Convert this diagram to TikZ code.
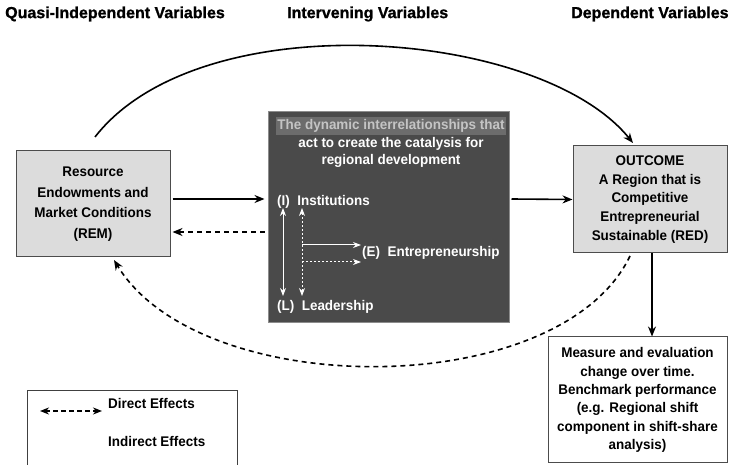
\documentclass[tikz,border=0pt]{standalone}
\usepackage{fontspec}
\setmainfont{Liberation Sans}
\newfontfamily\headfont[FakeBold=1]{Liberation Sans Bold}
\newfontfamily\boxfont[FakeStretch=0.96]{Liberation Sans}
\usetikzlibrary{arrows.meta}
\definecolor{boxgray}{HTML}{DCDCDC}
\definecolor{darkbox}{HTML}{4A4A4A}
\definecolor{hlgray}{HTML}{6C6C6C}
\definecolor{hltext}{HTML}{C4C4C4}
\begin{document}
\begin{tikzpicture}[x=1pt,y=-1pt,
  lightbox/.style={draw=black!70, line width=1pt, fill=boxgray, align=center, inner sep=0pt},
  whitebox/.style={draw=black!70, line width=1pt, fill=white, align=center, inner sep=0pt},
  header/.style={font=\headfont\fontsize{16}{17}\selectfont, inner sep=0pt, anchor=west},
  innertxt/.style={font=\boxfont\bfseries\fontsize{14}{17.5}\selectfont, text=white, inner sep=0pt},
  mainarrow/.style={line width=1.6pt, -{Stealth[length=10pt,width=8pt]}},
  dasharrow/.style={line width=1.6pt, dash pattern=on 5pt off 4pt, -{Stealth[length=10pt,width=8pt]}},
  wharrow/.style={white, line width=1pt, -{Stealth[length=8pt,width=6pt]}},
  whdash/.style={white, line width=1pt, dash pattern=on 2pt off 2pt, -{Stealth[length=8pt,width=6pt]}},
  whboth/.style={white, line width=1pt, {Stealth[length=8pt,width=6pt]}-{Stealth[length=8pt,width=6pt]}},
  whbothdash/.style={white, line width=1pt, dash pattern=on 2pt off 2pt, {Stealth[length=8pt,width=6pt]}-{Stealth[length=8pt,width=6pt]}}
]
\clip (0,0) rectangle (732,465);
\fill[white] (0,0) rectangle (732,465);

% headers
\node[header] (h1) at (5,14) {Quasi-Independent Variables};
\node[header] (h2) at (287,14) {Intervening Variables};
\node[header] (h3) at (571,14) {Dependent Variables};

% main boxes
\node[lightbox, minimum width=154pt, minimum height=106pt,
      font=\boxfont\bfseries\fontsize{14}{20.5}\selectfont] (rem) at (93,204)
      {Resource\\Endowments and\\Market Conditions\\(REM)};
\node[draw=black!45, line width=1pt, fill=darkbox, minimum width=241pt, minimum height=211pt] (mid) at (388.5,217.5) {};
\node[lightbox, minimum width=154pt, minimum height=107pt,
      font=\boxfont\bfseries\fontsize{14}{18.7}\selectfont] (red) at (650,199.5)
      {OUTCOME\\A Region that is\\Competitive\\Entrepreneurial\\Sustainable (RED)};
\node[whitebox, minimum width=179pt, minimum height=126pt,
      font=\boxfont\bfseries\fontsize{14}{18.4}\selectfont] (meas) at (637.5,400)
      {Measure and evaluation\\change over time.\\Benchmark performance\\(e.g. Regional shift\\component in shift-share\\analysis)};

% central texts
\node[innertxt, fill=hlgray, text=hltext, inner xsep=1pt, inner ysep=2pt] (t1) at (391,126) {The dynamic interrelationships that};
\node[innertxt, align=center, anchor=north] (t2) at ([yshift=-2pt]t1.south) {act to create the catalysis for\\regional development};
\node[innertxt, anchor=west] (inst) at (277,202) {(I)\ \ Institutions};
\node[innertxt, anchor=west] (lead) at (277,307) {(L)\ \ Leadership};
\node[innertxt, anchor=west] (ent) at (362,253) {(E)\ \ Entrepreneurship};

% inner arrows
\coordinate (va1) at (283,208);
\coordinate (vb1) at (283,296);
\coordinate (va2) at (302,208);
\coordinate (vb2) at (302,296);
\draw[whboth] (va1) -- (vb1);
\draw[whbothdash] (va2) -- (vb2);
\coordinate (ha1) at (302,245);
\coordinate (hb1) at (361,245);
\coordinate (ha2) at (302,262);
\coordinate (hb2) at (361,262);
\draw[wharrow] (ha1) -- (hb1);
\draw[whdash] (ha2) -- (hb2);

% main connectors
\draw[mainarrow] ([shift={(2pt,5pt)}]rem.east) -- ([shift={(-3pt,18.5pt)}]mid.west);
\draw[dasharrow] ([shift={(-3pt,-14.5pt)}]mid.west) -- ([shift={(2pt,-28pt)}]rem.east);
\draw[mainarrow] ([shift={(2pt,18.5pt)}]mid.east) -- (red.west);
\draw[mainarrow] ([xshift=2pt]red.south) -- ([xshift=2pt]red.south |- meas.north);

% arcs
\coordinate (a0) at (95,137);
\coordinate (a1) at (633,143);
\draw[mainarrow] (a0) .. controls (200,2) and (540,28) .. (a1);
\coordinate (b0) at (630,256);
\coordinate (b1) at (114,260);
\draw[dasharrow] (b0) .. controls (560,402) and (200,402) .. (b1);

% legend
\node[draw=black!75, line width=1pt, fill=white, minimum width=210pt, minimum height=90pt, anchor=north west] (legend) at (27,390) {};
\coordinate (la) at (40,411);
\coordinate (lb) at (102,411);
\draw[line width=1.6pt, dash pattern=on 5pt off 3pt, {Stealth[length=9pt,width=7pt]}-{Stealth[length=9pt,width=7pt]}] (la) -- (lb);
\node[inner sep=0pt, anchor=west, font=\boxfont\bfseries\fontsize{14}{16}\selectfont] (ld) at (108,403) {Direct Effects};
\node[inner sep=0pt, anchor=west, font=\boxfont\bfseries\fontsize{14}{16}\selectfont] (li) at (108,441) {Indirect Effects};
\end{tikzpicture}
\end{document}
